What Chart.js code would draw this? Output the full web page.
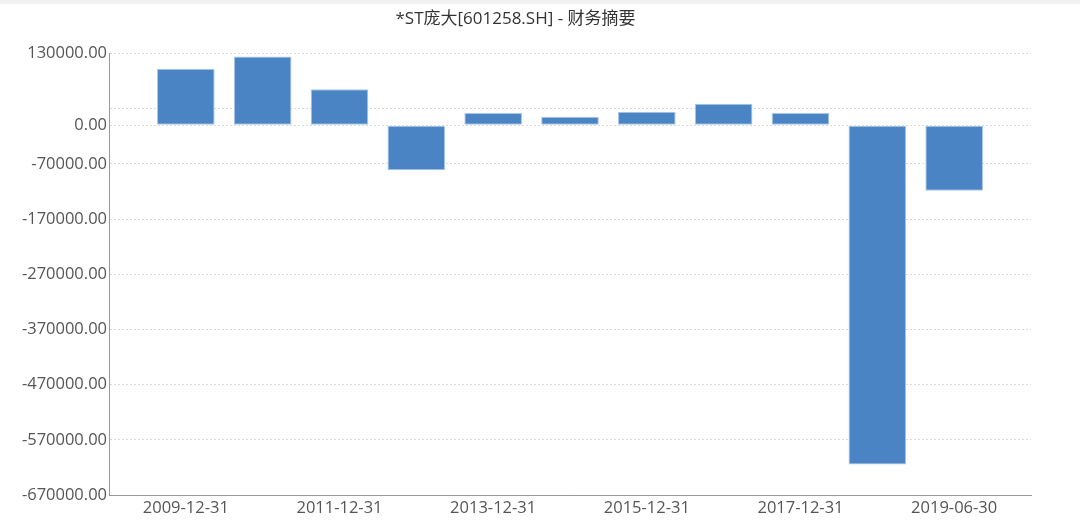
<!DOCTYPE html>
<html>
<head>
<meta charset="utf-8">
<script src="https://cdn.jsdelivr.net/npm/chart.js@4/dist/chart.umd.min.js"></script>
<style>
  html, body { margin: 0; padding: 0; background: #fff; }
  .strip { height: 4px; background: #f1f1f1; }
  .wrap { width: 1080px; height: 518px; }
</style>
</head>
<body>
<div class="strip"></div>
<div class="wrap"><canvas id="myChart" width="1080" height="518"></canvas></div>
<script>
var titleText = "*ST庞大[601258.SH] - 财务摘要";
var categories = ["2009-12-31", "2010-12-31", "2011-12-31", "2012-12-31", "2013-12-31", "2014-12-31",
  "2015-12-31", "2016-12-31", "2017-12-31", "2018-12-31", "2019-06-30"];
var values = [102000, 124500, 65300, -81800, 21900, 15400, 24400, 38900, 21900, -614500, -118600];
var yTicks = [-670000, -570000, -470000, -370000, -270000, -170000, -70000, 0, 30000, 130000];
var hiddenTicks = [30000];

// the axis leaves one empty slot before the first and after the last period
var labels = [''].concat(categories, ['']);
var barData = [null].concat(values, [null]);

var font = "'Open Sans', 'Noto Sans CJK SC', sans-serif";

var ctx = document.getElementById("myChart").getContext('2d');
var myChart = new Chart(ctx, {
  type: 'bar',
  data: {
    labels: labels,
    datasets: [{
      data: barData,
      backgroundColor: "#4a84c4",
      borderColor: "#a9c7e9",
      borderWidth: 1,
      borderSkipped: false,
      categoryPercentage: 1,
      barPercentage: 0.75
    }]
  },
  options: {
    responsive: false,
    animation: false,
    layout: { padding: { left: 0, right: 49, top: 0, bottom: 1 } },
    plugins: {
      legend: { display: false },
      tooltip: { enabled: false },
      title: {
        display: true,
        text: titleText,
        color: "#333",
        font: { family: font, size: 17, weight: 'normal' },
        padding: { top: 5, bottom: 24 }
      }
    },
    scales: {
      x: {
        offset: false,
        grid: { display: false, drawTicks: false },
        border: { display: true, color: "#999", width: 1 },
        ticks: {
          autoSkip: false,
          maxRotation: 0,
          color: "#555",
          padding: 3,
          font: { family: font, size: 16.5 },
          callback: function (v, i) {
            var k = i - 1;
            return (k >= 0 && k < categories.length && k % 2 === 0) ? categories[k] : '';
          }
        }
      },
      y: {
        min: -670000,
        max: 130000,
        afterBuildTicks: function (axis) {
          axis.ticks = yTicks.map(function (v) { return { value: v }; });
        },
        afterFit: function (axis) { axis.width = 109; },
        grid: {
          color: "#dadada",
          drawTicks: false
        },
        border: { display: true, color: "#999", width: 1, dash: [2, 2] },
        ticks: {
          color: "#555",
          padding: 2,
          font: { family: font, size: 16.5 },
          callback: function (v) { return hiddenTicks.indexOf(v) >= 0 ? '' : v.toFixed(2); }
        }
      }
    }
  },
  plugins: [{
    id: 'solidAxis',
    afterDraw: function (chart) {
      var a = chart.chartArea, c = chart.ctx;
      c.save();
      c.strokeStyle = "#999";
      c.lineWidth = 1;
      c.beginPath();
      c.moveTo(a.left + 0.5, a.top);
      c.lineTo(a.left + 0.5, a.bottom);
      c.stroke();
      c.restore();
    }
  }]
});
</script>
</body>
</html>
